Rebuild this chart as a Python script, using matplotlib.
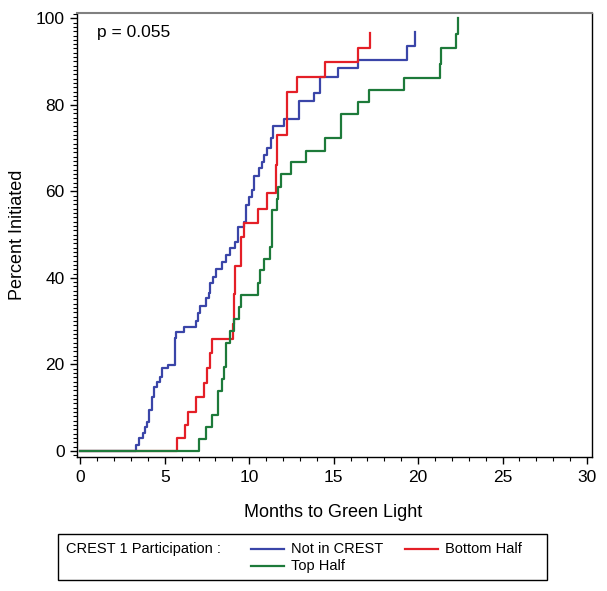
import matplotlib
matplotlib.use("Agg")
import matplotlib.pyplot as plt
from matplotlib.ticker import MultipleLocator
from matplotlib.lines import Line2D
from matplotlib.patches import Rectangle

plt.rcParams['font.family'] = ['Liberation Sans', 'DejaVu Sans']

# ---- data (months, cumulative percent initiated) ----
blue_t = [3.27, 3.50, 3.69, 3.85, 3.96, 4.08, 4.22, 4.35, 4.51, 4.71, 4.84, 5.20,
          5.59, 5.69, 6.14, 6.82, 6.96, 7.10, 7.45, 7.59, 7.65, 7.88, 8.04, 8.37,
          8.63, 8.88, 9.16, 9.35, 9.67, 9.80, 9.96, 10.14, 10.29, 10.59, 10.75,
          10.88, 11.08, 11.27, 11.43, 12.06, 12.94, 13.82, 14.20, 15.25, 16.43,
          19.37, 19.80]
blue_v = [1.4, 2.9, 4.1, 5.5, 6.8, 9.5, 12.5, 14.8, 16.0, 17.2, 19.1, 19.9,
          26.0, 27.4, 28.7, 30.1, 31.8, 33.5, 35.3, 36.6, 38.7, 40.3, 42.0, 43.7,
          45.3, 46.8, 48.3, 51.8, 52.8, 56.8, 58.7, 60.3, 63.5, 65.3, 66.8,
          68.4, 69.9, 72.2, 75.1, 76.8, 80.8, 82.8, 86.4, 88.4, 90.3,
          93.5, 96.7]

red_t = [5.73, 6.20, 6.39, 6.86, 7.31, 7.50, 7.69, 7.78, 9.02, 9.08, 9.12, 9.16,
         9.51, 9.70, 10.49, 11.08, 11.57, 11.67, 12.25, 12.80, 14.47, 16.43, 17.16]
red_v = [3.1, 6.0, 9.1, 12.5, 15.8, 19.1, 22.6, 25.8, 29.3, 32.8, 36.2, 42.7,
         49.5, 52.7, 56.0, 59.5, 66.0, 73.0, 83.0, 86.5, 89.8, 93.1, 96.6]

green_t = [7.02, 7.43, 7.79, 8.14, 8.38, 8.53, 8.63, 8.88, 9.10, 9.37, 9.50,
           10.49, 10.65, 10.88, 11.24, 11.33, 11.63, 11.73, 11.86, 12.45, 13.35,
           14.50, 15.45, 16.43, 17.10, 19.16, 21.27, 21.37, 22.25, 22.35]
green_v = [2.8, 5.6, 8.3, 13.9, 16.7, 19.4, 25.0, 27.8, 30.6, 33.3, 36.1,
           38.9, 41.7, 44.4, 47.2, 55.6, 58.3, 61.1, 63.9, 66.7, 69.4,
           72.2, 77.8, 80.6, 83.3, 86.1, 89.5, 93.0, 96.4, 100.0]

series_names = ["Not in CREST", "Bottom Half", "Top Half"]
series_colors = ["#3a45a8", "#e41f27", "#1d7a3a"]
x_ticks = [0, 5, 10, 15, 20, 25, 30]
y_ticks = [0, 20, 40, 60, 80, 100]
legend_title = "CREST 1 Participation :"
p_text = "p = 0.055"

W, H = 607, 591
fig = plt.figure(figsize=(W / 100, H / 100), dpi=100)
ax = fig.add_axes([77 / W, 1 - 457 / H, (592 - 77) / W, (457 - 13) / H])

series = [(blue_t, blue_v), (red_t, red_v), (green_t, green_v)]
for (t, v), c in zip(series, series_colors):
    xs = [0.0] + list(t)
    ys = [0.0] + list(v)
    ax.step(xs, ys, where='post', color=c, lw=1.6)

ax.set_xlim(-0.2, 30.3)
ax.set_ylim(-1.4, 101.2)
ax.set_xticks(x_ticks)
ax.set_yticks(y_ticks)
ax.xaxis.set_minor_locator(MultipleLocator(1))
ax.yaxis.set_minor_locator(MultipleLocator(1))
ax.tick_params(which='major', direction='out', length=5, width=1, labelsize=12.5, pad=4)
ax.tick_params(which='minor', direction='out', length=3, width=0.8)
for s in ['left', 'bottom', 'right']:
    ax.spines[s].set_color('black')
    ax.spines[s].set_linewidth(1.0)
ax.spines['top'].set_color('#808080')
ax.spines['top'].set_linewidth(1.5)

ax.set_xlabel("Months to Green Light", fontsize=13)
ax.set_ylabel("Percent Initiated", fontsize=13)
ax.xaxis.set_label_coords((333 - 77) / (592 - 77), (457 - 504) / (457 - 13))
ax.yaxis.set_label_coords((26 - 77) / (592 - 77), (457 - 235) / (457 - 13))

ax.text(1.0, 96.7, p_text, fontsize=12.5, va='center', ha='left')

# ---- legend drawn as a box below the axes ----
def fx(px):
    return px / W

def fy(py):
    return 1 - py / H

fig.patches.append(Rectangle((fx(58), fy(580)), fx(547) - fx(58), fy(534) - fy(580),
                             transform=fig.transFigure, fill=False,
                             edgecolor='black', lw=1.0))
fs = 10.5
fig.text(fx(66), fy(549), legend_title, fontsize=fs, va='center', ha='left')
entries = [(series_names[0], series_colors[0], 251, 549),
           (series_names[1], series_colors[1], 405, 549),
           (series_names[2], series_colors[2], 251, 566)]
for name, c, x0, yy in entries:
    fig.lines.append(Line2D([fx(x0), fx(x0 + 33)], [fy(yy), fy(yy)],
                            transform=fig.transFigure, color=c, lw=1.6))
    fig.text(fx(x0 + 40), fy(yy), name, fontsize=fs, va='center', ha='left')

fig.savefig("out.png", dpi=100)
